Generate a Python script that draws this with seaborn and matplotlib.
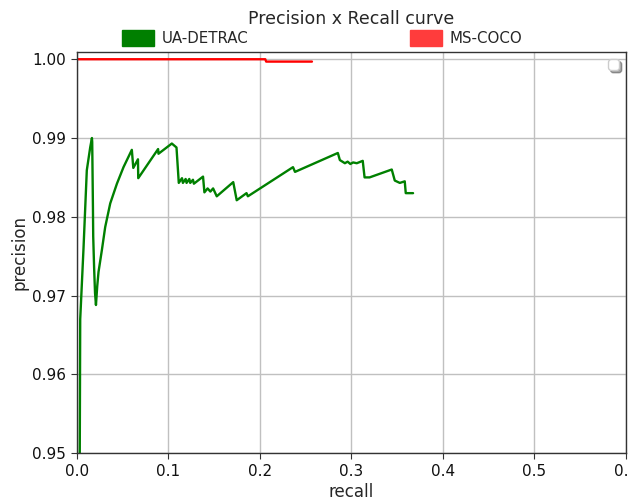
import matplotlib
matplotlib.use("Agg")
import matplotlib.pyplot as plt
import matplotlib.patches as mpatches
import pandas as pd
import seaborn as sns

# UA-DETRAC precision / recall points
detrac_recall = [0.0030, 0.0033, 0.0038, 0.0074, 0.0110, 0.0147, 0.0166, 0.0169, 0.0177,
                 0.0180, 0.0190, 0.0200, 0.0210, 0.0224, 0.0238, 0.0275, 0.0311, 0.0366,
                 0.0439, 0.0511, 0.0602, 0.0618, 0.0669, 0.0672, 0.0889, 0.0893, 0.1039,
                 0.1090, 0.1115, 0.1150, 0.1160, 0.1190, 0.1200, 0.1230, 0.1240, 0.1270,
                 0.1280, 0.1380, 0.1395, 0.1430, 0.1460, 0.1490, 0.1530, 0.1710, 0.1748,
                 0.1855, 0.1870, 0.2363, 0.2385, 0.2853, 0.2875, 0.2930, 0.2960, 0.2990,
                 0.3020, 0.3060, 0.3125, 0.3145, 0.3200, 0.3442, 0.3475, 0.3530, 0.3584,
                 0.3595, 0.3675]
detrac_precision = [0.9450, 0.9500, 0.9670, 0.9760, 0.9859, 0.9888, 0.9900, 0.9895, 0.9812,
                    0.9775, 0.9735, 0.9703, 0.9688, 0.9712, 0.9730, 0.9758, 0.9787, 0.9817,
                    0.9842, 0.9863, 0.9885, 0.9862, 0.9873, 0.9849, 0.9886, 0.9880, 0.9893,
                    0.9888, 0.9843, 0.9849, 0.9843, 0.9848, 0.9843, 0.9848, 0.9843, 0.9847,
                    0.9842, 0.9851, 0.9831, 0.9836, 0.9832, 0.9836, 0.9826, 0.9844, 0.9821,
                    0.9830, 0.9826, 0.9863, 0.9857, 0.9881, 0.9872, 0.9868, 0.9870, 0.9867,
                    0.9869, 0.9868, 0.9871, 0.9850, 0.9850, 0.9860, 0.9846, 0.9843, 0.9845,
                    0.9830, 0.9830]

# MS-COCO points
coco_recall = [0.0, 0.206, 0.207, 0.257]
coco_precision = [1.0, 1.0, 0.9997, 0.9997]

x_ticks = [0.0, 0.1, 0.2, 0.3, 0.4, 0.5, 0.6]
y_ticks = [0.95, 0.96, 0.97, 0.98, 0.99, 1.00]

detrac = pd.DataFrame({"recall": detrac_recall, "precision": detrac_precision})
coco = pd.DataFrame({"recall": coco_recall, "precision": coco_precision})

sns.set_style("ticks")
plt.rcParams["font.family"] = ["DejaVu Sans"]

fig, ax = plt.subplots(figsize=(6.29, 5.04), dpi=100)
fig.subplots_adjust(left=0.122, right=0.995, top=0.897, bottom=0.101)

sns.lineplot(data=detrac, x="recall", y="precision", color="green", linewidth=1.7,
             sort=False, estimator=None, ax=ax)
sns.lineplot(data=coco, x="recall", y="precision", color="red", linewidth=1.7,
             sort=False, estimator=None, ax=ax)

ax.set_xlim(0.0, 0.6)
ax.set_ylim(0.95, 1.00093)
ax.set_xticks(x_ticks)
ax.set_xticklabels([f"{t:.1f}" for t in x_ticks])
ax.set_yticks(y_ticks)
ax.set_yticklabels([f"{t:.2f}" for t in y_ticks])
ax.tick_params(labelsize=11, length=4, color="#333333", labelcolor="#111111")
ax.grid(True, color="#c0c0c0", linewidth=1.0)
for s in ax.spines.values():
    s.set_color("#333333")
    s.set_linewidth(1.0)
ax.set_xlabel("recall", fontsize=12, labelpad=3)
ax.set_ylabel("precision", fontsize=12, labelpad=3)
ax.set_title("Precision x Recall curve", fontsize=12.5, pad=20)

# empty legend box left in the corner
ax.legend(handles=[], loc="upper right", shadow=True)

patches = [mpatches.Patch(color="#007f00", label="UA-DETRAC"),
           mpatches.Patch(color="#ff3c3c", label="MS-COCO")]
fig.legend(handles=patches, loc="center", bbox_to_anchor=(0.512, 0.925), ncol=2,
           frameon=False, fontsize=10.8, handlelength=2.1, handleheight=1.3,
           columnspacing=10.8, handletextpad=0.5)

fig.savefig("out.png", dpi=100)
